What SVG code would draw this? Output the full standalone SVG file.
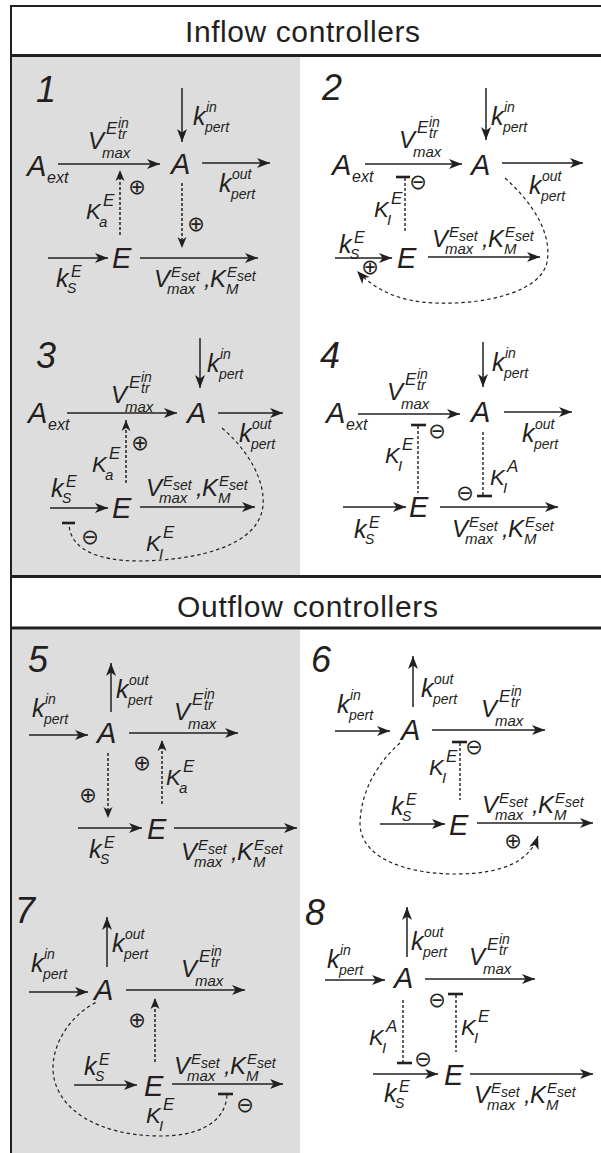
<svg xmlns="http://www.w3.org/2000/svg" width="601" height="1153" viewBox="0 0 601 1153">
<style>
text{font-family:"Liberation Sans",Arial,sans-serif;font-style:italic;fill:#231f20}
.hd{font-style:normal;font-size:30px}
.sym{font-family:"DejaVu Sans",sans-serif;font-style:normal;font-size:21px;text-anchor:middle}
.f36{font-size:36px}.f29{font-size:29px}.f25{font-size:25px}.f24{font-size:24px}.f22{font-size:22px}
.f17{font-size:17px}.f16{font-size:16px}.f15{font-size:15px}.f14{font-size:14px}
.ln{stroke:#231f20;stroke-width:1.5;fill:none;marker-end:url(#ah)}
.da{stroke:#231f20;stroke-width:1.5;fill:none;stroke-dasharray:3 2;marker-end:url(#ahd)}
.ds{stroke:#231f20;stroke-width:1.4;fill:none;stroke-dasharray:3 2}
.cv{stroke:#231f20;stroke-width:1.2;fill:none;stroke-dasharray:3.5 3}
.bar{stroke:#231f20;stroke-width:2.6}
.fr{stroke:#231f20;fill:none}
.gray{fill:#dddddd}
</style>
<defs>
<marker id="ah" markerUnits="userSpaceOnUse" viewBox="-14 -6 16 12" markerWidth="16" markerHeight="12" refX="0" refY="0" orient="auto"><path d="M0,0 L-13,-5 L-9.5,0 L-13,5 Z" fill="#231f20"/></marker>
<marker id="ahd" markerUnits="userSpaceOnUse" viewBox="-12 -5 14 10" markerWidth="14" markerHeight="10" refX="0" refY="0" orient="auto"><path d="M0,0 L-11,-4.5 L-8,0 L-11,4.5 Z" fill="#231f20"/></marker>
</defs>

<g id="frame">
<rect class="gray" x="12" y="57" width="288" height="519"/>
<rect class="gray" x="12" y="629.5" width="288" height="524"/>
<line class="fr" x1="10" y1="6" x2="601" y2="6" stroke-width="2"/>
<line class="fr" x1="10" y1="55.5" x2="601" y2="55.5" stroke-width="3"/>
<line class="fr" x1="10" y1="576.5" x2="601" y2="576.5" stroke-width="3"/>
<line class="fr" x1="10" y1="628" x2="601" y2="628" stroke-width="3"/>
<line class="fr" x1="11" y1="5" x2="11" y2="1153" stroke-width="2"/>
<text id="h-inflow" class="hd" x="185" y="42" textLength="235">Inflow controllers</text>
<text id="h-outflow" class="hd" x="177" y="617" textLength="261">Outflow controllers</text>
</g>

<g id="connectors">
<!-- panel 1 -->
<line class="ln" x1="182" y1="88" x2="182" y2="142"/>
<line class="ln" x1="58" y1="164" x2="160" y2="164"/>
<line class="ln" x1="202" y1="163" x2="270" y2="163"/>
<line class="ln" x1="48" y1="258" x2="108" y2="258"/>
<line class="ln" x1="140" y1="258" x2="258" y2="258"/>
<line class="da" x1="120" y1="235" x2="120" y2="170"/>
<line class="da" x1="182" y1="183" x2="182" y2="248"/>
<!-- panel 2 -->
<line class="ln" x1="486" y1="88" x2="486" y2="140"/>
<line class="ln" x1="365" y1="164" x2="462" y2="164"/>
<line class="ln" x1="502" y1="163" x2="583" y2="163"/>
<line class="ln" x1="335" y1="258" x2="392" y2="258"/>
<line class="ln" x1="428" y1="257" x2="540" y2="257"/>
<line class="bar" x1="396" y1="177" x2="410" y2="177"/>
<line class="ds" x1="405" y1="178" x2="405" y2="233"/>
<path class="cv" d="M505,178 C535,205 552,235 547,262 C542,290 490,305 435,303 C400,302 375,290 357,271" marker-end="url(#ah)"/>
<!-- panel 3 -->
<line class="ln" x1="200" y1="338" x2="200" y2="388"/>
<line class="ln" x1="67" y1="413" x2="177" y2="413"/>
<line class="ln" x1="218" y1="413" x2="283" y2="413"/>
<line class="ln" x1="50" y1="508" x2="108" y2="508"/>
<line class="ln" x1="140" y1="507" x2="255" y2="507"/>
<line class="da" x1="126" y1="483" x2="126" y2="420"/>
<line class="bar" x1="62" y1="523" x2="75" y2="523"/>
<path class="cv" d="M222,428 C248,450 265,480 263,505 C260,545 200,560 140,561 C95,561 70,548 69,524"/>
<!-- panel 4 -->
<line class="ln" x1="483" y1="342" x2="483" y2="387"/>
<line class="ln" x1="358" y1="414" x2="460" y2="414"/>
<line class="ln" x1="504" y1="412" x2="572" y2="412"/>
<line class="ln" x1="343" y1="507" x2="406" y2="507"/>
<line class="ln" x1="440" y1="507" x2="558" y2="507"/>
<line class="bar" x1="411" y1="425" x2="426" y2="425"/>
<line class="ds" x1="418" y1="426" x2="418" y2="493"/>
<line class="ds" x1="483" y1="432" x2="483" y2="495"/>
<line class="bar" x1="477" y1="496" x2="492" y2="496"/>
<!-- panel 5 -->
<line class="ln" x1="111" y1="712" x2="111" y2="663"/>
<line class="ln" x1="29" y1="735" x2="88" y2="735"/>
<line class="ln" x1="129" y1="733" x2="238" y2="733"/>
<line class="ln" x1="78" y1="828" x2="142" y2="828"/>
<line class="ln" x1="174" y1="828" x2="297" y2="828"/>
<line class="da" x1="108" y1="753" x2="108" y2="818"/>
<line class="da" x1="162" y1="804" x2="162" y2="740"/>
<!-- panel 6 -->
<line class="ln" x1="413" y1="707" x2="413" y2="656"/>
<line class="ln" x1="335" y1="731" x2="390" y2="731"/>
<line class="ln" x1="432" y1="730" x2="545" y2="730"/>
<line class="ln" x1="380" y1="824" x2="445" y2="824"/>
<line class="ln" x1="477" y1="823" x2="593" y2="823"/>
<line class="bar" x1="452" y1="742" x2="467" y2="742"/>
<line class="ds" x1="460" y1="743" x2="460" y2="800"/>
<path class="cv" d="M400,743 C375,765 360,795 360,825 C362,860 410,874 455,874 C505,874 530,860 538,836" marker-end="url(#ah)"/>
<!-- panel 7 -->
<line class="ln" x1="107" y1="967" x2="107" y2="917"/>
<line class="ln" x1="29" y1="992" x2="88" y2="992"/>
<line class="ln" x1="126" y1="990" x2="245" y2="990"/>
<line class="ln" x1="74" y1="1085" x2="137" y2="1085"/>
<line class="ln" x1="172" y1="1084" x2="283" y2="1084"/>
<line class="da" x1="155" y1="1062" x2="155" y2="998"/>
<line class="bar" x1="218" y1="1094" x2="233" y2="1094"/>
<path class="cv" d="M227,1095 C225,1125 195,1136 160,1136 C100,1136 55,1110 53,1070 C52,1040 75,1012 97,1002"/>
<!-- panel 8 -->
<line class="ln" x1="407" y1="957" x2="407" y2="907"/>
<line class="ln" x1="325" y1="980" x2="385" y2="980"/>
<line class="ln" x1="425" y1="979" x2="535" y2="979"/>
<line class="ln" x1="373" y1="1074" x2="438" y2="1074"/>
<line class="ln" x1="470" y1="1074" x2="593" y2="1074"/>
<line class="bar" x1="448" y1="994" x2="463" y2="994"/>
<line class="ds" x1="456" y1="995" x2="456" y2="1052"/>
<line class="ds" x1="403" y1="1000" x2="403" y2="1062"/>
<line class="bar" x1="397" y1="1063" x2="412" y2="1063"/>
</g>

<g id="p1">
<text class="f36" x="36" y="102">1</text>
<g id="p1-Aext" transform="translate(27,176)"><text class="f29">A</text><text class="f16" x="20" y="7">ext</text></g>
<g id="p1-A" transform="translate(171,174)"><text class="f29">A</text></g>
<g id="p1-E" transform="translate(112,268)"><text class="f29">E</text></g>
<g id="p1-kin" transform="translate(193,125)"><text class="f25">k</text><text class="f14" x="13" y="-13">in</text><text class="f14" x="12" y="7">pert</text></g>
<g id="p1-kout" transform="translate(219,192)"><text class="f25">k</text><text class="f14" x="13" y="-13">out</text><text class="f14" x="12" y="7">pert</text></g>
<g id="p1-Vtr" transform="translate(88,149)"><text class="f24">V</text><text class="f15" x="14" y="9">max</text><text class="f17" x="18" y="-15">E</text><text class="f14" x="30" y="-21">in</text><text class="f14" x="30" y="-10">tr</text></g>
<g id="p1-Ka" transform="translate(86,219)"><text class="f22">K</text><text class="f17" x="17" y="-13">E</text><text class="f15" x="13" y="8">a</text></g>
<g id="p1-kS" transform="translate(56,287)"><text class="f25">k</text><text class="f16" x="15" y="-10">E</text><text class="f14" x="11" y="6">S</text></g>
<g id="p1-Vset" transform="translate(154,287)"><text class="f24">V</text><text class="f15" x="13" y="7">max</text><text class="f15" x="17" y="-10">E</text><text class="f14" x="27" y="-6">set</text><text class="f24" x="50">,</text><text class="f24" x="56">K</text><text class="f15" x="73" y="-10">E</text><text class="f14" x="83" y="-6">set</text><text class="f15" x="72" y="7">M</text></g>
<text class="sym" x="137" y="194">⊕</text>
<text class="sym" x="196" y="231">⊕</text>
</g>

<g id="p2">
<text class="f36" x="322" y="100">2</text>
<g id="p2-Aext" transform="translate(332,175)"><text class="f29">A</text><text class="f16" x="20" y="7">ext</text></g>
<g id="p2-A" transform="translate(471,175)"><text class="f29">A</text></g>
<g id="p2-E" transform="translate(397,268)"><text class="f29">E</text></g>
<g id="p2-kin" transform="translate(491,125)"><text class="f25">k</text><text class="f14" x="13" y="-13">in</text><text class="f14" x="12" y="7">pert</text></g>
<g id="p2-kout" transform="translate(529,194)"><text class="f25">k</text><text class="f14" x="13" y="-13">out</text><text class="f14" x="12" y="7">pert</text></g>
<g id="p2-Vtr" transform="translate(399,148)"><text class="f24">V</text><text class="f15" x="14" y="9">max</text><text class="f17" x="18" y="-15">E</text><text class="f14" x="30" y="-21">in</text><text class="f14" x="30" y="-10">tr</text></g>
<g id="p2-KI" transform="translate(374,217)"><text class="f22">K</text><text class="f17" x="17" y="-13">E</text><text class="f15" x="13" y="8">I</text></g>
<g id="p2-kS" transform="translate(339,253)"><text class="f25">k</text><text class="f16" x="15" y="-10">E</text><text class="f14" x="11" y="6">S</text></g>
<g id="p2-Vset" transform="translate(432,247)"><text class="f24">V</text><text class="f15" x="13" y="7">max</text><text class="f15" x="17" y="-10">E</text><text class="f14" x="27" y="-6">set</text><text class="f24" x="50">,</text><text class="f24" x="56">K</text><text class="f15" x="73" y="-10">E</text><text class="f14" x="83" y="-6">set</text><text class="f15" x="72" y="7">M</text></g>
<text class="sym" x="418" y="189">⊖</text>
<text class="sym" x="370" y="274">⊕</text>
</g>

<g id="p3">
<text class="f36" x="36" y="368">3</text>
<g id="p3-Aext" transform="translate(28,423)"><text class="f29">A</text><text class="f16" x="20" y="7">ext</text></g>
<g id="p3-A" transform="translate(187,423)"><text class="f29">A</text></g>
<g id="p3-E" transform="translate(112,518)"><text class="f29">E</text></g>
<g id="p3-kin" transform="translate(207,372)"><text class="f25">k</text><text class="f14" x="13" y="-13">in</text><text class="f14" x="12" y="7">pert</text></g>
<g id="p3-kout" transform="translate(239,442)"><text class="f25">k</text><text class="f14" x="13" y="-13">out</text><text class="f14" x="12" y="7">pert</text></g>
<g id="p3-Vtr" transform="translate(111,403)"><text class="f24">V</text><text class="f15" x="14" y="9">max</text><text class="f17" x="18" y="-15">E</text><text class="f14" x="30" y="-21">in</text><text class="f14" x="30" y="-10">tr</text></g>
<g id="p3-Ka" transform="translate(92,472)"><text class="f22">K</text><text class="f17" x="17" y="-13">E</text><text class="f15" x="13" y="8">a</text></g>
<g id="p3-kS" transform="translate(51,497)"><text class="f25">k</text><text class="f16" x="15" y="-10">E</text><text class="f14" x="11" y="6">S</text></g>
<g id="p3-Vset" transform="translate(146,496)"><text class="f24">V</text><text class="f15" x="13" y="7">max</text><text class="f15" x="17" y="-10">E</text><text class="f14" x="27" y="-6">set</text><text class="f24" x="50">,</text><text class="f24" x="56">K</text><text class="f15" x="73" y="-10">E</text><text class="f14" x="83" y="-6">set</text><text class="f15" x="72" y="7">M</text></g>
<g id="p3-KI" transform="translate(146,551)"><text class="f22">K</text><text class="f17" x="17" y="-13">E</text><text class="f15" x="13" y="8">I</text></g>
<text class="sym" x="140" y="450">⊕</text>
<text class="sym" x="90" y="544">⊖</text>
</g>

<g id="p4">
<text class="f36" x="320" y="368">4</text>
<g id="p4-Aext" transform="translate(326,423)"><text class="f29">A</text><text class="f16" x="20" y="7">ext</text></g>
<g id="p4-A" transform="translate(471,422)"><text class="f29">A</text></g>
<g id="p4-E" transform="translate(409,517)"><text class="f29">E</text></g>
<g id="p4-kin" transform="translate(492,371)"><text class="f25">k</text><text class="f14" x="13" y="-13">in</text><text class="f14" x="12" y="7">pert</text></g>
<g id="p4-kout" transform="translate(522,442)"><text class="f25">k</text><text class="f14" x="13" y="-13">out</text><text class="f14" x="12" y="7">pert</text></g>
<g id="p4-Vtr" transform="translate(387,400)"><text class="f24">V</text><text class="f15" x="14" y="9">max</text><text class="f17" x="18" y="-15">E</text><text class="f14" x="30" y="-21">in</text><text class="f14" x="30" y="-10">tr</text></g>
<g id="p4-KIE" transform="translate(385,463)"><text class="f22">K</text><text class="f17" x="17" y="-13">E</text><text class="f15" x="13" y="8">I</text></g>
<g id="p4-KIA" transform="translate(490,485)"><text class="f22">K</text><text class="f17" x="17" y="-13">A</text><text class="f15" x="13" y="8">I</text></g>
<g id="p4-kS" transform="translate(354,538)"><text class="f25">k</text><text class="f16" x="15" y="-10">E</text><text class="f14" x="11" y="6">S</text></g>
<g id="p4-Vset" transform="translate(452,537)"><text class="f24">V</text><text class="f15" x="13" y="7">max</text><text class="f15" x="17" y="-10">E</text><text class="f14" x="27" y="-6">set</text><text class="f24" x="50">,</text><text class="f24" x="56">K</text><text class="f15" x="73" y="-10">E</text><text class="f14" x="83" y="-6">set</text><text class="f15" x="72" y="7">M</text></g>
<text class="sym" x="437" y="438">⊖</text>
<text class="sym" x="465" y="500">⊖</text>
</g>

<g id="p5">
<text class="f36" x="28" y="672">5</text>
<g id="p5-A" transform="translate(97,743)"><text class="f29">A</text></g>
<g id="p5-E" transform="translate(147,839)"><text class="f29">E</text></g>
<g id="p5-kout" transform="translate(116,698)"><text class="f25">k</text><text class="f14" x="13" y="-13">out</text><text class="f14" x="12" y="7">pert</text></g>
<g id="p5-kin" transform="translate(32,717)"><text class="f25">k</text><text class="f14" x="13" y="-13">in</text><text class="f14" x="12" y="7">pert</text></g>
<g id="p5-Vtr" transform="translate(174,720)"><text class="f24">V</text><text class="f15" x="14" y="9">max</text><text class="f17" x="18" y="-15">E</text><text class="f14" x="30" y="-21">in</text><text class="f14" x="30" y="-10">tr</text></g>
<g id="p5-Ka" transform="translate(166,785)"><text class="f22">K</text><text class="f17" x="17" y="-13">E</text><text class="f15" x="13" y="8">a</text></g>
<g id="p5-kS" transform="translate(89,858)"><text class="f25">k</text><text class="f16" x="15" y="-10">E</text><text class="f14" x="11" y="6">S</text></g>
<g id="p5-Vset" transform="translate(181,860)"><text class="f24">V</text><text class="f15" x="13" y="7">max</text><text class="f15" x="17" y="-10">E</text><text class="f14" x="27" y="-6">set</text><text class="f24" x="50">,</text><text class="f24" x="56">K</text><text class="f15" x="73" y="-10">E</text><text class="f14" x="83" y="-6">set</text><text class="f15" x="72" y="7">M</text></g>
<text class="sym" x="88" y="802">⊕</text>
<text class="sym" x="142" y="770">⊕</text>
</g>

<g id="p6">
<text class="f36" x="311" y="672">6</text>
<g id="p6-A" transform="translate(401,740)"><text class="f29">A</text></g>
<g id="p6-E" transform="translate(449,835)"><text class="f29">E</text></g>
<g id="p6-kout" transform="translate(421,697)"><text class="f25">k</text><text class="f14" x="13" y="-13">out</text><text class="f14" x="12" y="7">pert</text></g>
<g id="p6-kin" transform="translate(337,713)"><text class="f25">k</text><text class="f14" x="13" y="-13">in</text><text class="f14" x="12" y="7">pert</text></g>
<g id="p6-Vtr" transform="translate(481,717)"><text class="f24">V</text><text class="f15" x="14" y="9">max</text><text class="f17" x="18" y="-15">E</text><text class="f14" x="30" y="-21">in</text><text class="f14" x="30" y="-10">tr</text></g>
<g id="p6-KI" transform="translate(429,775)"><text class="f22">K</text><text class="f17" x="17" y="-13">E</text><text class="f15" x="13" y="8">I</text></g>
<g id="p6-kS" transform="translate(391,815)"><text class="f25">k</text><text class="f16" x="15" y="-10">E</text><text class="f14" x="11" y="6">S</text></g>
<g id="p6-Vset" transform="translate(482,813)"><text class="f24">V</text><text class="f15" x="13" y="7">max</text><text class="f15" x="17" y="-10">E</text><text class="f14" x="27" y="-6">set</text><text class="f24" x="50">,</text><text class="f24" x="56">K</text><text class="f15" x="73" y="-10">E</text><text class="f14" x="83" y="-6">set</text><text class="f15" x="72" y="7">M</text></g>
<text class="sym" x="474" y="754">⊖</text>
<text class="sym" x="513" y="848">⊕</text>
</g>

<g id="p7">
<text class="f36" x="15" y="923">7</text>
<g id="p7-A" transform="translate(94,1000)"><text class="f29">A</text></g>
<g id="p7-E" transform="translate(144,1096)"><text class="f29">E</text></g>
<g id="p7-kout" transform="translate(112,952)"><text class="f25">k</text><text class="f14" x="13" y="-13">out</text><text class="f14" x="12" y="7">pert</text></g>
<g id="p7-kin" transform="translate(31,972)"><text class="f25">k</text><text class="f14" x="13" y="-13">in</text><text class="f14" x="12" y="7">pert</text></g>
<g id="p7-Vtr" transform="translate(181,977)"><text class="f24">V</text><text class="f15" x="14" y="9">max</text><text class="f17" x="18" y="-15">E</text><text class="f14" x="30" y="-21">in</text><text class="f14" x="30" y="-10">tr</text></g>
<g id="p7-kS" transform="translate(84,1075)"><text class="f25">k</text><text class="f16" x="15" y="-10">E</text><text class="f14" x="11" y="6">S</text></g>
<g id="p7-Vset" transform="translate(174,1074)"><text class="f24">V</text><text class="f15" x="13" y="7">max</text><text class="f15" x="17" y="-10">E</text><text class="f14" x="27" y="-6">set</text><text class="f24" x="50">,</text><text class="f24" x="56">K</text><text class="f15" x="73" y="-10">E</text><text class="f14" x="83" y="-6">set</text><text class="f15" x="72" y="7">M</text></g>
<g id="p7-KI" transform="translate(146,1123)"><text class="f22">K</text><text class="f17" x="17" y="-13">E</text><text class="f15" x="13" y="8">I</text></g>
<text class="sym" x="137" y="1027">⊕</text>
<text class="sym" x="245" y="1112">⊖</text>
</g>

<g id="p8">
<text class="f36" x="305" y="925">8</text>
<g id="p8-A" transform="translate(394,988)"><text class="f29">A</text></g>
<g id="p8-E" transform="translate(444,1085)"><text class="f29">E</text></g>
<g id="p8-kout" transform="translate(411,950)"><text class="f25">k</text><text class="f14" x="13" y="-13">out</text><text class="f14" x="12" y="7">pert</text></g>
<g id="p8-kin" transform="translate(327,968)"><text class="f25">k</text><text class="f14" x="13" y="-13">in</text><text class="f14" x="12" y="7">pert</text></g>
<g id="p8-Vtr" transform="translate(469,965)"><text class="f24">V</text><text class="f15" x="14" y="9">max</text><text class="f17" x="18" y="-15">E</text><text class="f14" x="30" y="-21">in</text><text class="f14" x="30" y="-10">tr</text></g>
<g id="p8-KIE" transform="translate(461,1035)"><text class="f22">K</text><text class="f17" x="17" y="-13">E</text><text class="f15" x="13" y="8">I</text></g>
<g id="p8-KIA" transform="translate(369,1045)"><text class="f22">K</text><text class="f17" x="17" y="-13">A</text><text class="f15" x="13" y="8">I</text></g>
<g id="p8-kS" transform="translate(384,1102)"><text class="f25">k</text><text class="f16" x="15" y="-10">E</text><text class="f14" x="11" y="6">S</text></g>
<g id="p8-Vset" transform="translate(474,1103)"><text class="f24">V</text><text class="f15" x="13" y="7">max</text><text class="f15" x="17" y="-10">E</text><text class="f14" x="27" y="-6">set</text><text class="f24" x="50">,</text><text class="f24" x="56">K</text><text class="f15" x="73" y="-10">E</text><text class="f14" x="83" y="-6">set</text><text class="f15" x="72" y="7">M</text></g>
<text class="sym" x="437" y="1007">⊖</text>
<text class="sym" x="423" y="1066">⊖</text>
</g>
</svg>
